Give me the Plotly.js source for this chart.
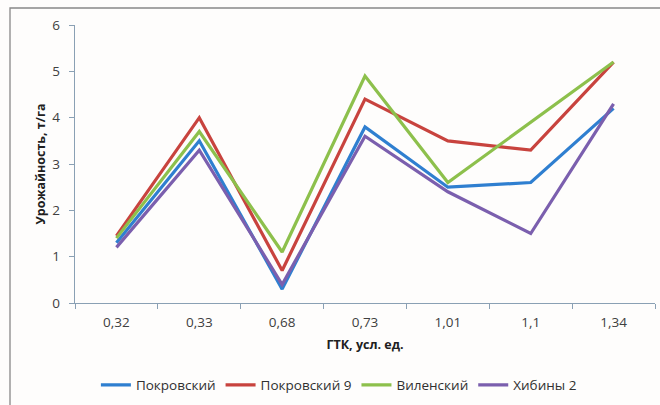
<!DOCTYPE html>
<html><head><meta charset="utf-8">
<script src="https://cdn.plot.ly/plotly-3.0.1.min.js"></script>
<style>html,body{margin:0;padding:0;background:#fff}#c{width:660px;height:405px}</style>
</head><body><div id="c"></div>
<script>
const categories = ["0,32","0,33","0,68","0,73","1,01","1,1","1,34"];
const pokrovsky = [1.3, 3.5, 0.3, 3.8, 2.5, 2.6, 4.2];
const pokrovsky9 = [1.45, 4.0, 0.7, 4.4, 3.5, 3.3, 5.2];
const vilensky = [1.4, 3.7, 1.1, 4.9, 2.6, 3.9, 5.2];
const khibiny2 = [1.2, 3.3, 0.4, 3.6, 2.4, 1.5, 4.3];
const names = ["Покровский", "Покровский 9", "Виленский", "Хибины 2"];
const colors = ["#2f7fd0", "#c8433e", "#8dc04c", "#7b5fae"];
const series = [pokrovsky, pokrovsky9, vilensky, khibiny2];

const traces = series.map((s, i) => ({
  type: "scatter", mode: "lines", x: categories, y: s, name: names[i],
  line: {color: colors[i], width: 3.2}
}));

const fontFam = "Open Sans, Liberation Sans, sans-serif";
const layout = {
  width: 660, height: 405,
  margin: {l: 75, r: 5, t: 25, b: 102},
  paper_bgcolor: "#fefdfc", plot_bgcolor: "#fefdfc",
  font: {family: fontFam, size: 13, color: "#404040"},
  showlegend: true,
  legend: {orientation: "h", x: 0.455, xanchor: "center", y: -0.295, yanchor: "middle",
           font: {size: 13.5, color: "#303030"}, itemwidth: 30, tracegroupgap: 0},
  xaxis: {type: "category", range: [-0.5, categories.length - 0.5], showline: true,
          linecolor: "#8aa0b4", linewidth: 1.3, automargin: false,
          ticks: "outside", tickson: "boundaries", ticklen: 5, tickcolor: "#8aa0b4",
          ticklabelstandoff: 6, tickfont: {size: 13.5},
          showgrid: false, zeroline: false, fixedrange: true,
          title: {text: "<b>ГТК, усл. ед.</b>", font: {size: 12.5, color: "#202020"}, standoff: 10}},
  yaxis: {range: [0, 6], dtick: 1, showline: true, linecolor: "#8aa0b4", linewidth: 1.3,
          automargin: false, tickfont: {size: 13.5},
          ticks: "outside", ticklen: 5, tickcolor: "#8aa0b4", ticklabelstandoff: 6,
          showgrid: false, zeroline: false,
          title: {text: "<b>Урожайность, т/га</b>", font: {size: 12.5, color: "#202020"}, standoff: 4}},
  shapes: [{type: "rect", xref: "paper", yref: "paper",
            x0: -65/580, x1: 700/580, y0: -200/278, y1: 1 + 17/278,
            line: {color: "#888888", width: 1.3}, fillcolor: "rgba(0,0,0,0)", layer: "below"}]
};
Plotly.newPlot("c", traces, layout, {displayModeBar: false, staticPlot: true});
</script></body></html>
